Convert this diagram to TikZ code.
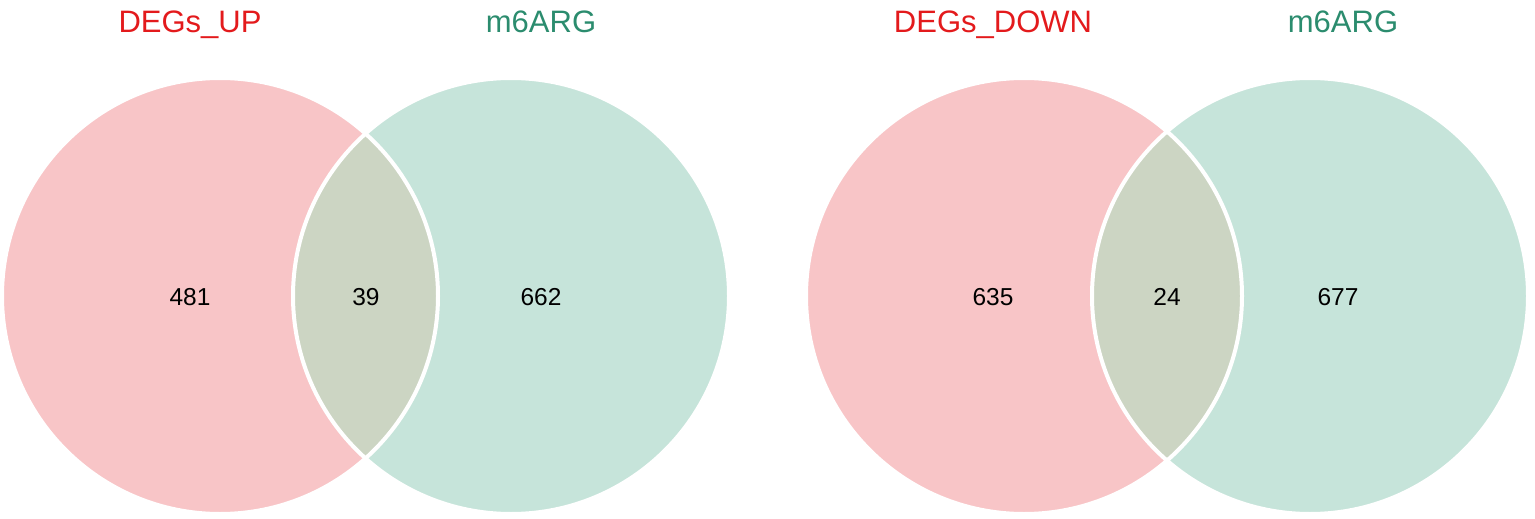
\documentclass[tikz,border=0pt]{standalone}
\usepackage{fontspec}
\setmainfont{Liberation Sans}
\definecolor{pinkfill}{HTML}{F8C5C7}
\definecolor{greenfill}{HTML}{C6E4DA}
\definecolor{lensfill}{HTML}{CCD5C3}
\definecolor{labelred}{HTML}{E31A1C}
\definecolor{labelgreen}{HTML}{2B8C6E}
\begin{document}
\begin{tikzpicture}[x=1pt,y=-1pt,
  setlabel/.style={font=\fontsize{31}{31}\selectfont, anchor=base, inner sep=0pt},
  count/.style={font=\fontsize{24.5}{24.5}\selectfont, text=black, inner sep=0pt},
  border/.style={draw=white, line width=4pt}]
\useasboundingbox (0,0) rectangle (1535,519);
% left Venn
\coordinate (A1) at (220,296);
\coordinate (B1) at (511,296);
\fill[pinkfill] (A1) circle (218pt);
\fill[greenfill] (B1) circle (218pt);
\begin{scope}
  \clip (A1) circle (218pt);
  \fill[lensfill] (B1) circle (218pt);
\end{scope}
\draw[border] (A1) circle (218pt);
\draw[border] (B1) circle (218pt);
% right Venn
\coordinate (A2) at (1024,296);
\coordinate (B2) at (1310,296);
\fill[pinkfill] (A2) circle (218pt);
\fill[greenfill] (B2) circle (218pt);
\begin{scope}
  \clip (A2) circle (218pt);
  \fill[lensfill] (B2) circle (218pt);
\end{scope}
\draw[border] (A2) circle (218pt);
\draw[border] (B2) circle (218pt);
% labels
\node[setlabel, text=labelred] (lup) at (190,33) {DEGs\_UP};
\node[setlabel, text=labelgreen] (lm1) at (541,33) {m6ARG};
\node[setlabel, text=labelred] (ldown) at (993,33) {DEGs\_DOWN};
\node[setlabel, text=labelgreen] (lm2) at (1343,33) {m6ARG};
% counts
\node[count] (n481) at (190,297) {481};
\node[count] (n39) at (366,297) {39};
\node[count] (n662) at (541,297) {662};
\node[count] (n635) at (993,297) {635};
\node[count] (n24) at (1167,297) {24};
\node[count] (n677) at (1338,297) {677};
\end{tikzpicture}
\end{document}
